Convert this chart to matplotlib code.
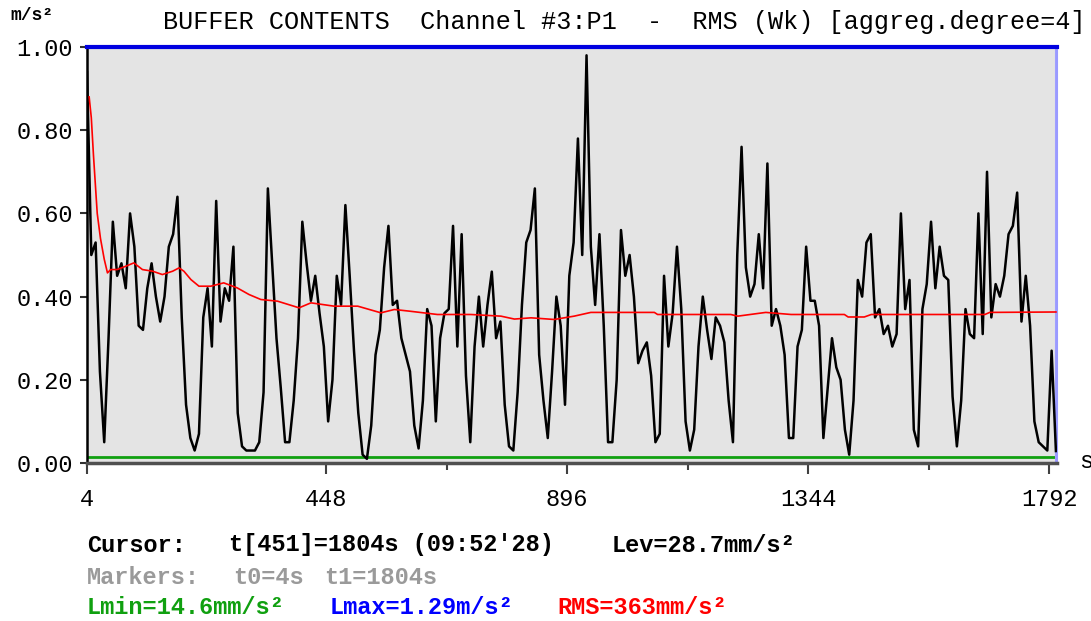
import numpy as np
import matplotlib
matplotlib.use("Agg")
import matplotlib.pyplot as plt

plt.rcParams['font.family'] = ['Liberation Mono', 'DejaVu Sans Mono']

# buffer samples, aggregation degree 4 -> one value every 8 s shown here (m/s^2)
t_start, t_step = 4, 8
level = [
    0.94, 0.50, 0.53, 0.22, 0.05, 0.30, 0.58, 0.45, 0.48, 0.42,
    0.60, 0.52, 0.33, 0.32, 0.42, 0.48, 0.40, 0.34, 0.40, 0.52,
    0.55, 0.64, 0.35, 0.14, 0.06, 0.03, 0.07, 0.35, 0.42, 0.28,
    0.63, 0.34, 0.42, 0.39, 0.52, 0.12, 0.04, 0.03,
    0.03, 0.03, 0.05, 0.17, 0.66, 0.48, 0.30, 0.18, 0.05, 0.05,
    0.15, 0.30, 0.58, 0.48, 0.39, 0.45, 0.36, 0.28, 0.10, 0.20,
    0.45, 0.38, 0.62, 0.45, 0.27, 0.12, 0.02, 0.01, 0.09, 0.26,
    0.32, 0.47, 0.57, 0.38, 0.39, 0.30, 0.26,
    0.22, 0.09, 0.035, 0.15, 0.37, 0.33, 0.10, 0.30, 0.36, 0.37,
    0.57, 0.28, 0.55, 0.21, 0.05, 0.28, 0.40, 0.28, 0.38, 0.46,
    0.30, 0.34, 0.14, 0.04, 0.03, 0.17, 0.38, 0.53, 0.56, 0.66,
    0.26, 0.15, 0.06, 0.22, 0.40, 0.33,
    0.14, 0.45, 0.53, 0.78, 0.50, 0.98, 0.52, 0.38, 0.55, 0.33,
    0.05, 0.05, 0.20, 0.56, 0.45, 0.50, 0.40, 0.24, 0.27, 0.29,
    0.21, 0.05, 0.07, 0.45, 0.28, 0.36, 0.52, 0.37, 0.10, 0.03,
    0.08, 0.28, 0.40, 0.32, 0.25, 0.35, 0.33, 0.29,
    0.15, 0.05, 0.50, 0.76, 0.47, 0.40, 0.43, 0.55, 0.42, 0.72,
    0.33, 0.37, 0.33, 0.26, 0.06, 0.06, 0.28, 0.32, 0.52, 0.39,
    0.39, 0.33, 0.06, 0.18, 0.30, 0.23, 0.20, 0.08, 0.02, 0.15,
    0.44, 0.40, 0.53, 0.55, 0.35, 0.37, 0.31, 0.33,
    0.28, 0.31, 0.60, 0.37, 0.44, 0.08, 0.04, 0.37, 0.43, 0.58,
    0.42, 0.52, 0.45, 0.44, 0.16, 0.04, 0.15, 0.37, 0.31, 0.30,
    0.60, 0.31, 0.70, 0.35, 0.43, 0.40, 0.45, 0.55, 0.57, 0.65,
    0.34, 0.45, 0.33, 0.10, 0.05, 0.04, 0.03, 0.27, 0.0287,
]

# running RMS (s, m/s^2)
rms_t = [8, 12, 16, 20, 23, 29, 36, 42, 48, 60, 76, 91, 107, 126, 144, 163,
         175, 184, 197, 212, 234, 258, 283, 305, 327, 358, 398, 420, 463,
         507, 550, 575, 603, 655, 717, 773, 798, 829, 872, 909, 940, 1058,
         1064, 1200, 1213, 1265, 1312, 1411, 1418, 1448, 1461, 1672, 1681,
         1804]
rms_v = [0.88, 0.83, 0.74, 0.66, 0.60, 0.54, 0.49, 0.457, 0.465, 0.465,
         0.473, 0.481, 0.465, 0.461, 0.453, 0.461, 0.469, 0.461, 0.441,
         0.425, 0.425, 0.433, 0.421, 0.405, 0.393, 0.389, 0.373, 0.385,
         0.377, 0.377, 0.361, 0.369, 0.365, 0.357, 0.357, 0.353, 0.346,
         0.349, 0.345, 0.353, 0.362, 0.362, 0.357, 0.357, 0.353, 0.362,
         0.357, 0.357, 0.351, 0.351, 0.357, 0.357, 0.362, 0.363]

lmin = 0.0146
lmax = 1.29
cursor_idx, cursor_t = 451, 1804

x_ticks = [4, 448, 896, 1344, 1792]
x_minor = [672, 1120, 1568]
y_ticks = [0.0, 0.2, 0.4, 0.6, 0.8, 1.0]

W, H = 1091, 621
fig = plt.figure(figsize=(W / 100, H / 100), dpi=100)
ax = fig.add_axes([87 / W, 1 - 463 / H, 970 / W, 416 / H])
ax.set_facecolor('#e4e4e4')

t = t_start + t_step * np.arange(len(level))
ax.plot(t, level, color='black', lw=1.8, zorder=3)
ax.plot(rms_t, rms_v, color='#ff0000', lw=1.2, zorder=4)
ax.axhline(lmin, color='#10a010', lw=2, zorder=2)
ax.axhline(min(lmax, 1.0), color='#0000e0', lw=3, zorder=5, clip_on=False)
ax.axvline(cursor_t, color='#a0a0ff', lw=1.5, zorder=2)

ax.set_xlim(4, 1806)
ax.set_ylim(0, 1.0)

ax.set_xticks(x_ticks)
ax.set_xticklabels([str(v) for v in x_ticks])
ax.set_xticks(x_minor, minor=True)
ax.set_yticks(y_ticks)
ax.set_yticklabels([f"{v:.2f}" for v in y_ticks])
ax.tick_params(axis='x', which='major', direction='out', length=8, width=1.5,
               color='#404040', pad=10, labelsize=17)
ax.tick_params(axis='x', which='minor', direction='out', length=5, width=1.5,
               color='#404040')
ax.tick_params(axis='y', direction='out', length=5, width=1.5, color='#303030',
               pad=5, labelsize=17)

ax.spines['left'].set_color('black')
ax.spines['left'].set_linewidth(1.8)
ax.spines['bottom'].set_color('#505050')
ax.spines['bottom'].set_linewidth(2.5)
ax.spines['top'].set_color('#202040')
ax.spines['top'].set_linewidth(1)
ax.spines['right'].set_color('#9a9aff')
ax.spines['right'].set_linewidth(1.5)


def px(x, y, s, **kw):
    fig.text(x / W, 1 - y / H, s, va='center', **kw)


px(10, 15, "m/s²", fontsize=13, fontweight='bold')
px(163, 22, "BUFFER CONTENTS  Channel #3:P1  -  RMS (Wk) [aggreg.degree=4]",
   fontsize=18.1)
px(1079, 461, "s", fontsize=17)

bold = dict(fontsize=17, fontweight='bold')
px(87, 545, "Cursor:", **bold)
px(229, 545, f"t[{cursor_idx}]={cursor_t}s (09:52'28)", **bold)
px(612, 545, f"Lev={level[-1] * 1000:.1f}mm/s²", **bold)
px(87, 577, "Markers:", color='#9a9a9a', **bold)
px(233, 577, f"t0={t_start}s", color='#9a9a9a', **bold)
px(324, 577, f"t1={cursor_t}s", color='#9a9a9a', **bold)
px(87, 608, f"Lmin={lmin * 1000:.1f}mm/s²", color='#10a010', **bold)
px(330, 608, f"Lmax={lmax:.2f}m/s²", color='#0000ff', **bold)
px(557, 608, f"RMS={rms_v[-1] * 1000:.0f}mm/s²", color='#ff0000', **bold)

fig.savefig("out.png", dpi=100)
